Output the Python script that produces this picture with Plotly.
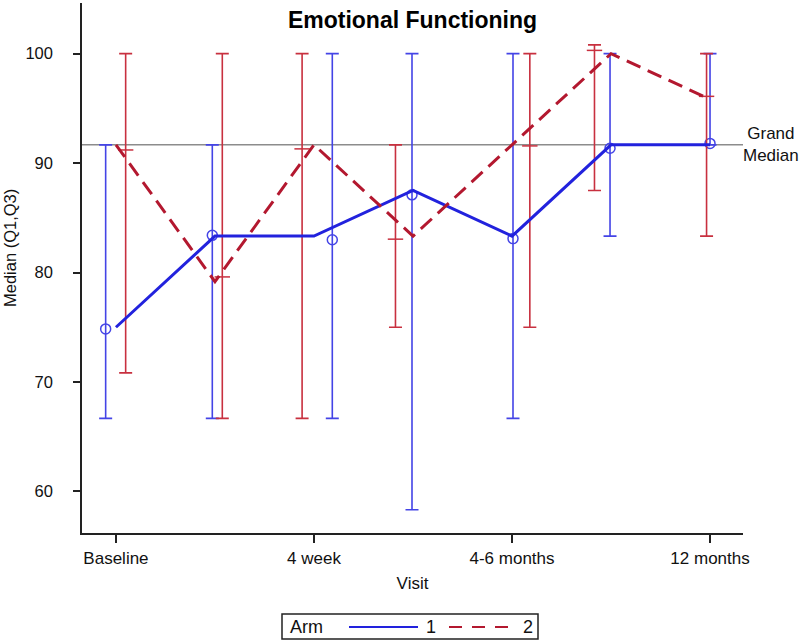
import plotly.graph_objects as go

visits = [1, 2, 3, 4, 5, 6, 7]
tick_vals = [1, 3, 5, 7]
tick_text = ["Baseline", "4 week", "4-6 months", "12 months"]

# Median lines (at visit positions)
arm1_line = [75.0, 83.33, 83.33, 87.5, 83.33, 91.67, 91.67]
arm2_line = [91.67, 79.17, 91.67, 83.33, 91.67, 100.0, 95.83]

# Jittered point positions / medians with Q1, Q3
arm1_x = [0.896, 1.973, 3.185, 3.99, 5.01, 5.99, 7.0]
arm1_med = [74.85, 83.4, 83.0, 87.1, 83.1, 91.36, 91.8]
arm1_q1 = [66.67, 66.67, 66.67, 58.33, 66.67, 83.33, 91.67]
arm1_q3 = [91.67, 91.67, 100.0, 100.0, 100.0, 100.0, 100.0]

arm2_x = [1.098, 2.074, 2.88, 3.823, 5.18, 5.833, 6.965]
arm2_med = [91.2, 79.6, 91.3, 83.05, 91.57, 100.3, 96.1]
arm2_q1 = [70.83, 66.67, 66.67, 75.0, 75.0, 87.5, 83.33]
arm2_q3 = [100.0, 100.0, 100.0, 91.67, 100.0, 100.8, 100.0]

grand_median = 91.67
arm_names = ["1", "2"]

BLUE_LINE = "#2222dd"
BLUE_BAR = "#4444e6"
RED_LINE = "#b3182f"
RED_BAR = "#c8303f"
FONT = "Liberation Sans, Arial, sans-serif"
RED_DASH = "15px,8px"

fig = go.Figure()

fig.add_trace(go.Scatter(
    x=arm1_x, y=arm1_med, mode="markers", showlegend=False,
    marker=dict(symbol="circle-open", size=10, color=BLUE_BAR, line=dict(width=1.5, color=BLUE_BAR)),
    error_y=dict(type="data", symmetric=False,
                 array=[q3 - m for q3, m in zip(arm1_q3, arm1_med)],
                 arrayminus=[m - q1 for q1, m in zip(arm1_q1, arm1_med)],
                 color=BLUE_BAR, thickness=1.6, width=6.5),
))
fig.add_trace(go.Scatter(
    x=arm2_x, y=arm2_med, mode="markers", showlegend=False,
    marker=dict(symbol="line-ew", size=11, color=RED_BAR, line=dict(width=1.5, color=RED_BAR)),
    error_y=dict(type="data", symmetric=False,
                 array=[q3 - m for q3, m in zip(arm2_q3, arm2_med)],
                 arrayminus=[m - q1 for q1, m in zip(arm2_q1, arm2_med)],
                 color=RED_BAR, thickness=1.6, width=6.5),
))
fig.add_trace(go.Scatter(
    x=visits, y=arm1_line, mode="lines", name=arm_names[0], showlegend=False,
    line=dict(color=BLUE_LINE, width=3),
))
fig.add_trace(go.Scatter(
    x=visits, y=arm2_line, mode="lines", name=arm_names[1], showlegend=False,
    line=dict(color=RED_LINE, width=3, dash=RED_DASH),
))


def px(xp):
    return (xp - 82) / 661


def py(yp):
    return (533 - yp) / 530


# Grand median reference line and label
fig.add_shape(type="line", xref="paper", x0=0, x1=1, yref="y", y0=grand_median, y1=grand_median,
              line=dict(color="#8c8c8c", width=1.5), layer="below")
fig.add_annotation(x=px(771), xref="paper", y=grand_median, yref="y", xanchor="center",
                   text="Grand<br>Median", showarrow=False, align="center",
                   font=dict(family=FONT, size=17, color="#111"))

# Y axis title
fig.add_annotation(x=px(10), xref="paper", y=py(248), yref="paper",
                   text="Median (Q1,Q3)", textangle=-90, showarrow=False,
                   xanchor="center", yanchor="middle",
                   font=dict(family=FONT, size=16.5, color="#111"))

# Legend (drawn as layout decoration below the plot)
fig.add_shape(type="rect", xref="paper", yref="paper", x0=px(282), x1=px(538), y0=py(639), y1=py(614),
              line=dict(color="#222", width=1.5), fillcolor="white")
fig.add_annotation(x=px(288), y=py(626.5), xref="paper", yref="paper", xanchor="left", yanchor="middle",
                   text="Arm", showarrow=False, font=dict(family=FONT, size=18, color="#111"))
fig.add_shape(type="line", xref="paper", yref="paper", x0=px(349), x1=px(418), y0=py(627), y1=py(627),
              line=dict(color=BLUE_LINE, width=2))
fig.add_annotation(x=px(431), y=py(626.5), xref="paper", yref="paper", xanchor="center", yanchor="middle",
                   text=arm_names[0], showarrow=False, font=dict(family=FONT, size=18, color="#111"))
fig.add_shape(type="line", xref="paper", yref="paper", x0=px(449), x1=px(515), y0=py(627), y1=py(627),
              line=dict(color=RED_LINE, width=2, dash="13px,10px"))
fig.add_annotation(x=px(528), y=py(626.5), xref="paper", yref="paper", xanchor="center", yanchor="middle",
                   text=arm_names[1], showarrow=False, font=dict(family=FONT, size=18, color="#111"))

fig.update_layout(
    width=800, height=640,
    paper_bgcolor="white", plot_bgcolor="white",
    margin=dict(l=82, r=57, t=3, b=107, autoexpand=False),
    title=dict(text="<b>Emotional Functioning</b>", x=(82 + 743) / 2 / 800, xanchor="center",
               y=1 - 20 / 640, yanchor="middle", font=dict(family=FONT, size=23, color="#000")),
    font=dict(family=FONT, size=16, color="#111"),
    xaxis=dict(range=[0.657, 7.333], tickvals=tick_vals, ticktext=tick_text,
               showgrid=False, zeroline=False, showline=True, linecolor="#222", linewidth=1.5,
               ticks="outside", ticklen=8, tickwidth=1.5, tickcolor="#222",
               ticklabelstandoff=1,
               tickfont=dict(family=FONT, size=17),
               title=dict(text="Visit", font=dict(size=17), standoff=10)),
    yaxis=dict(range=[56.2, 104.63], tickvals=[60, 70, 80, 90, 100],
               showgrid=False, zeroline=False, showline=True, linecolor="#222", linewidth=1.5,
               ticks="outside", ticklen=7, tickwidth=1.5, tickcolor="#222",
               ticklabelstandoff=17,
               tickfont=dict(size=16.5)),
    showlegend=False,
)

fig.write_html("out.html", config={"displayModeBar": False},
               post_script="document.body.style.margin='0';")
